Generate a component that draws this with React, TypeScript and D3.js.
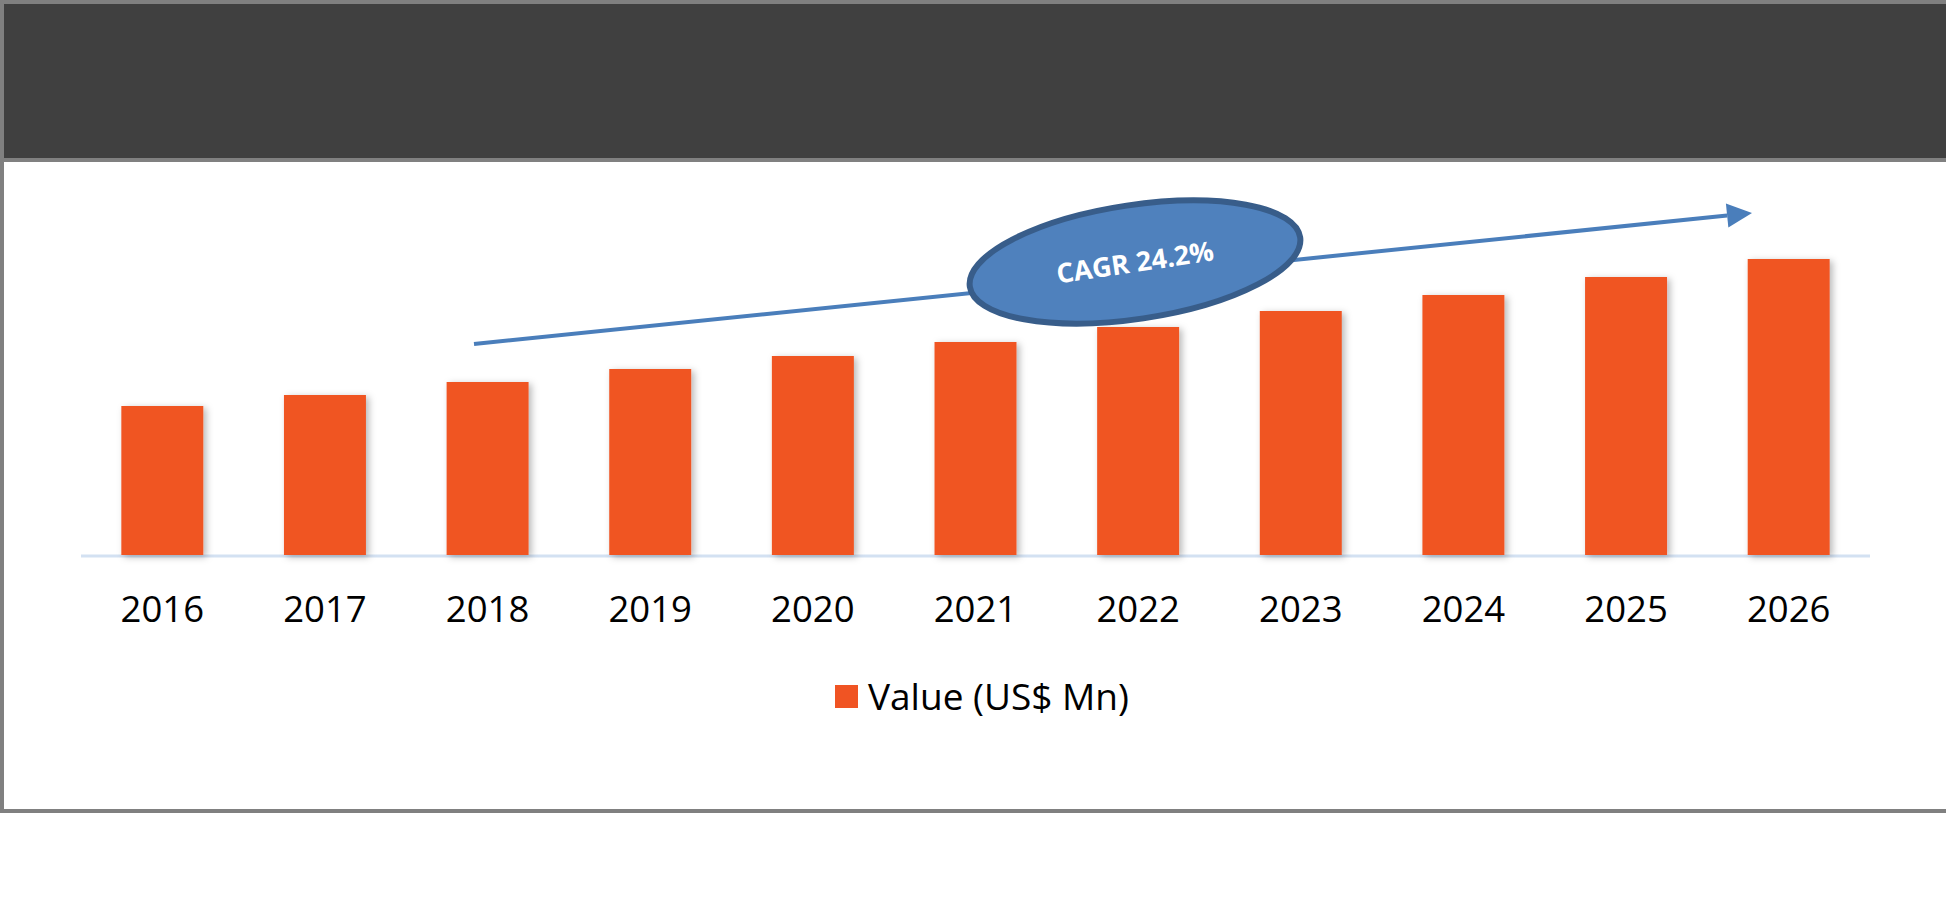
import React from 'react';
import * as d3 from 'd3';

const years = ['2016', '2017', '2018', '2019', '2020', '2021', '2022', '2023', '2024', '2025', '2026'];
const values = [149, 160, 173, 186, 199, 213, 228, 244, 260, 278, 296];
const seriesName = 'Value (US$ Mn)';
const cagrLabel = 'CAGR 24.2%';

const W = 1946;
const H = 920;
const baseY = 555;
const font = '"Open Sans", "Noto Sans", sans-serif';

const App: React.FC = () => {
  const x = d3.scaleBand<string>()
    .domain(years)
    .range([81, 1870])
    .paddingInner(0.496)
    .paddingOuter(0.248);

  const y = d3.scaleLinear()
    .domain([0, 400])
    .range([baseY, baseY - 400]);

  // arrow annotation
  const arrowStart: [number, number] = [474, 344];
  const arrowTip: [number, number] = [1752, 213];
  const ang = Math.atan2(arrowTip[1] - arrowStart[1], arrowTip[0] - arrowStart[0]);
  const headLen = 25;
  const headHalf = 12;
  const bx = arrowTip[0] - headLen * Math.cos(ang);
  const by = arrowTip[1] - headLen * Math.sin(ang);
  const px = -Math.sin(ang) * headHalf;
  const py = Math.cos(ang) * headHalf;
  const head = `M${arrowTip[0]},${arrowTip[1]} L${bx + px},${by + py} L${bx - px},${by - py} Z`;

  return (
    <svg width={W} height={H} style={{ position: 'absolute', left: 0, top: 0 }}>
      <defs>
        <filter id="shadow" x="-20%" y="-10%" width="150%" height="130%">
          <feDropShadow dx="3" dy="2" stdDeviation="3.5" floodColor="#000" floodOpacity="0.28" />
        </filter>
      </defs>
      <rect x={0} y={0} width={W} height={H} fill="#fff" />
      {/* frame */}
      <rect x={2} y={2} width={W + 10} height={809} fill="#fff" stroke="#808080" strokeWidth={4} />
      <rect x={4} y={4} width={W} height={154} fill="#404040" />
      <rect x={4} y={158} width={W} height={4} fill="#808080" />

      {/* baseline */}
      <line x1={81} x2={1870} y1={baseY + 1} y2={baseY + 1} stroke="#d3e1f2" strokeWidth={3} />

      {/* bars */}
      <g filter="url(#shadow)">
        {years.map((yr, i) => (
          <rect
            key={yr}
            x={x(yr)}
            y={y(values[i])}
            width={x.bandwidth()}
            height={baseY - y(values[i])}
            fill="#f05423"
          />
        ))}
      </g>

      {/* category labels */}
      {years.map(yr => (
        <text
          key={yr}
          x={(x(yr) ?? 0) + x.bandwidth() / 2}
          y={622}
          textAnchor="middle"
          fontFamily={font}
          fontSize={36.5}
          fill="#000"
        >
          {yr}
        </text>
      ))}

      {/* arrow */}
      <line x1={arrowStart[0]} y1={arrowStart[1]} x2={bx} y2={by} stroke="#4a7ebb" strokeWidth={4} />
      <path d={head} fill="#4a7ebb" />

      {/* CAGR ellipse */}
      <g transform="translate(1135,262) rotate(-8.5)">
        <ellipse cx={0} cy={0} rx={167} ry={57} fill="#4f81bd" stroke="#385d8a" strokeWidth={6} />
        <text
          x={0}
          y={10}
          textAnchor="middle"
          fontFamily={font}
          fontWeight="bold"
          fontSize={27}
          fill="#fff"
        >
          {cagrLabel}
        </text>
      </g>

      {/* legend */}
      <rect x={835} y={685} width={23} height={23} fill="#f05423" />
      <text x={868} y={710} fontFamily={font} fontSize={37} fill="#000">
        {seriesName}
      </text>
    </svg>
  );
};

export default App;
